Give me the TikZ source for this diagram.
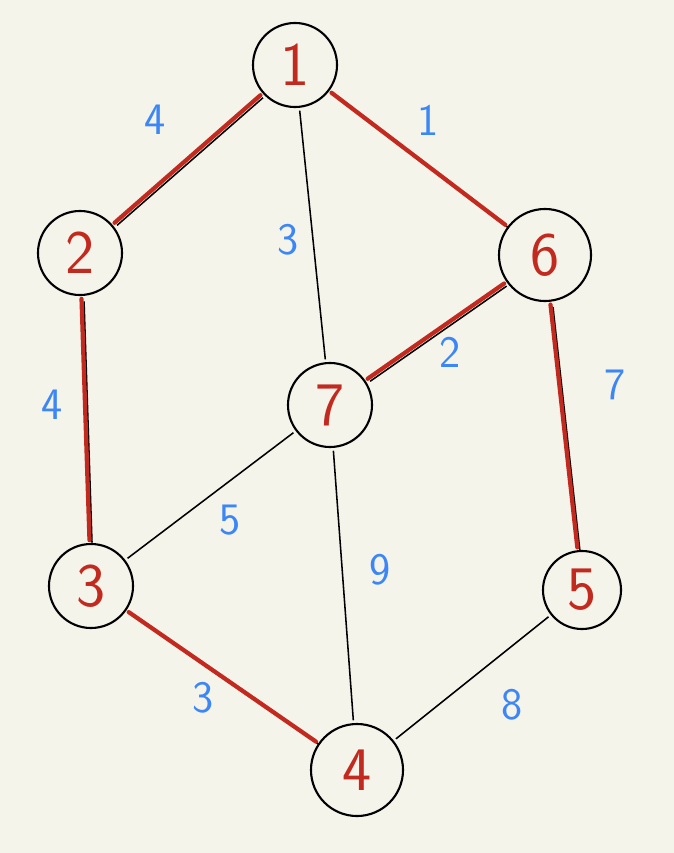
\documentclass[tikz,border=0pt]{standalone}
\usepackage{xcolor}
\definecolor{pgpaper}{HTML}{F5F4EA}
\definecolor{pgred}{HTML}{C22A20}
\definecolor{pgblue}{HTML}{3C87F5}
\usepackage{tikz}
\usetikzlibrary{backgrounds}

\begin{document}
\begin{tikzpicture}[x=0.025cm,y=-0.025cm,
  vtx/.style={draw,circle,line width=1.5pt,minimum size=2.1cm,inner sep=0pt,text=pgred,font=\sffamily\fontsize{44}{44}\selectfont},
  edge/.style={line width=1.1pt,shorten <=2pt,shorten >=2pt},
  tree/.style={pgred,line width=3pt,line cap=round,shorten <=2pt,shorten >=2pt},
  wt/.style={text=pgblue,font=\sffamily\fontsize{32}{32}\selectfont}]
  \useasboundingbox[fill=pgpaper] (0,0) rectangle (674,853);
  % vertices
  \node[vtx] (n1) at (295,65) {1};
  \node[vtx] (n2) at (80,253) {2};
  \node[vtx,minimum size=2.3cm] (n6) at (545,255) {6};
  \node[vtx] (n7) at (330,405) {7};
  \node[vtx] (n3) at (91,586) {3};
  \node[vtx,minimum size=1.95cm] (n5) at (582,590) {5};
  \node[vtx,minimum size=2.3cm] (n4) at (357,770) {4};
  % plain edges
  \draw[edge] (n1) -- (n7);
  \draw[edge] (n7) -- (n3);
  \draw[edge] (n7) -- (n4);
  \draw[edge] (n5) -- (n4);
  % spanning tree edges
  \foreach \a/\b in {n1/n2,n1/n6,n6/n7,n6/n5,n2/n3,n3/n4}{
    \draw[edge,transform canvas={shift={(1.8pt,-1.8pt)}}] (\a) -- (\b);
    \draw[tree] (\a) -- (\b);
  }
  % weights
  \node[wt] (w12) at (155,120) {4};
  \node[wt] (w16) at (428,120) {1};
  \node[wt] (w17) at (288,240) {3};
  \node[wt] (w67) at (450,352) {2};
  \node[wt] (w65) at (615,385) {7};
  \node[wt] (w23) at (52,405) {4};
  \node[wt] (w73) at (230,520) {5};
  \node[wt] (w74) at (380,570) {9};
  \node[wt] (w34) at (203,698) {3};
  \node[wt] (w54) at (512,705) {8};
\end{tikzpicture}
\end{document}
